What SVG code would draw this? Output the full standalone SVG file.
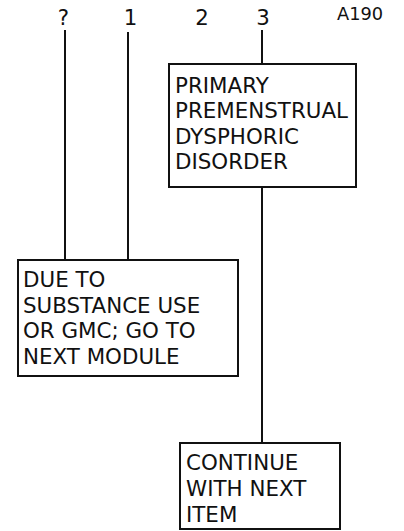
<svg xmlns="http://www.w3.org/2000/svg" width="404" height="531" viewBox="0 0 404 531">
  <style>
    .box { fill: #ffffff; stroke: #111111; stroke-width: 2; }
    .txt { font-family: "DejaVu Sans", Verdana, sans-serif; font-size: 21.4px; fill: #111111; }
    .lbl { font-family: "DejaVu Sans", Verdana, sans-serif; font-size: 21.3px; fill: #111111; text-anchor: middle; }
    .code { font-family: "DejaVu Sans", Verdana, sans-serif; font-size: 17.8px; fill: #111111; }
    .wire { stroke: #111111; stroke-width: 2; fill: none; }
  </style>
  <rect width="404" height="531" fill="#ffffff"/>

  <!-- rating column labels -->
  <g id="ratings">
    <text class="lbl" x="63.5" y="25">?</text>
    <text class="lbl" x="130.5" y="25">1</text>
    <text class="lbl" x="202" y="25">2</text>
    <text class="lbl" x="263" y="25">3</text>
    <text class="code" x="337" y="20">A190</text>
  </g>

  <!-- connectors -->
  <g id="connectors">
    <line class="wire" x1="65" y1="30" x2="65" y2="260"/>
    <line class="wire" x1="128" y1="32" x2="128" y2="260"/>
    <line class="wire" x1="262" y1="30" x2="262" y2="64"/>
    <line class="wire" x1="262" y1="187" x2="262" y2="443"/>
  </g>

  <g id="primary-pmdd">
    <rect class="box" x="169" y="64" width="187" height="123"/>
    <text class="txt" x="175" y="92.5">PRIMARY</text>
    <text class="txt" x="175" y="118">PREMENSTRUAL</text>
    <text class="txt" x="175" y="143.5">DYSPHORIC</text>
    <text class="txt" x="175" y="169">DISORDER</text>
  </g>

  <g id="due-to-substance">
    <rect class="box" x="18" y="260" width="220" height="116"/>
    <text class="txt" x="23" y="287">DUE TO</text>
    <text class="txt" x="23" y="312.5">SUBSTANCE USE</text>
    <text class="txt" x="23" y="338">OR GMC; GO TO</text>
    <text class="txt" x="23" y="363.5">NEXT MODULE</text>
  </g>

  <g id="continue-next-item">
    <rect class="box" x="180" y="443" width="160" height="86"/>
    <text class="txt" x="186" y="470">CONTINUE</text>
    <text class="txt" x="186" y="496">WITH NEXT</text>
    <text class="txt" x="186" y="521.5">ITEM</text>
  </g>
</svg>
